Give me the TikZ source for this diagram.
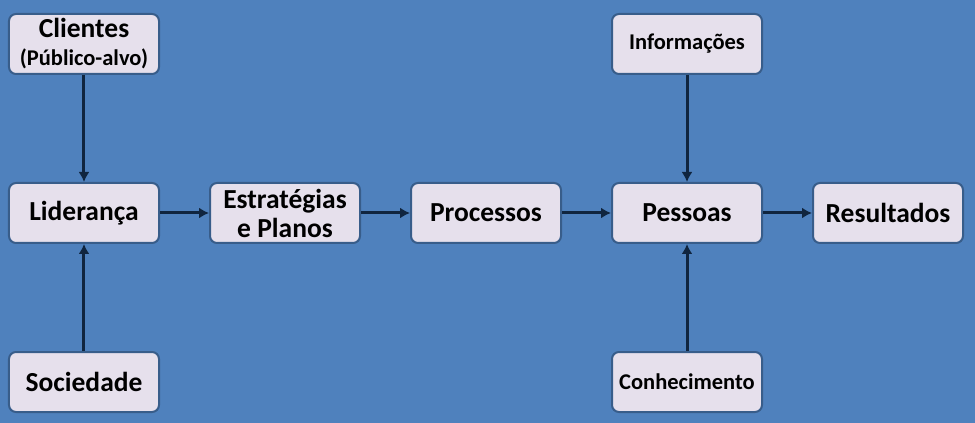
\documentclass[tikz,border=0pt]{standalone}
\usepackage{fontspec}
\setmainfont{Carlito}
\usetikzlibrary{positioning, arrows.meta}
\definecolor{fundo}{HTML}{4F81BD}
\definecolor{caixa}{HTML}{E6E0EC}
\definecolor{borda}{HTML}{385D8A}
\definecolor{seta}{HTML}{10253F}

\begin{document}
\begin{tikzpicture}[node distance=49pt and 49pt,
	bloco/.style={draw=borda, fill=caixa, line width=2pt, rounded corners=7pt, minimum width=150pt, minimum height=60pt, inner sep=2pt, align=center, font=\bfseries\fontsize{27.5}{29}\selectfont},
	menor/.style={font=\bfseries\fontsize{22.5}{24}\selectfont},
	liga/.style={draw=seta, line width=3pt, -{Latex[length=10pt,width=11pt]}}]
			\fill[fundo] (-84pt,213pt) rectangle (891pt,-210pt);
			\node[bloco] (lid) {Liderança};
			\node[bloco, right=of lid] (est) {Estratégias\\e Planos};
			\node[bloco, right=of est] (proc) {Processos};
			\node[bloco, right=of proc] (pes) {Pessoas};
			\node[bloco, right=of pes] (res) {Resultados};
			\node[bloco, above=107pt of lid] (cli) {Clientes\\[-1pt]{\fontsize{22.5}{24}\selectfont(Público-alvo)}};
			\node[bloco, below=107pt of lid] (soc) {Sociedade};
			\node[bloco, menor, above=107pt of pes] (inf) {Informações};
			\node[bloco, menor, below=107pt of pes] (con) {Conhecimento};
			\draw[liga] (cli) -- (lid);
			\draw[liga] (soc) -- (lid);
			\draw[liga] (lid) -- (est);
			\draw[liga] (est) -- (proc);
			\draw[liga] (proc) -- (pes);
			\draw[liga] (pes) -- (res);
			\draw[liga] (inf) -- (pes);
			\draw[liga] (con) -- (pes);
		\end{tikzpicture}
\end{document}
